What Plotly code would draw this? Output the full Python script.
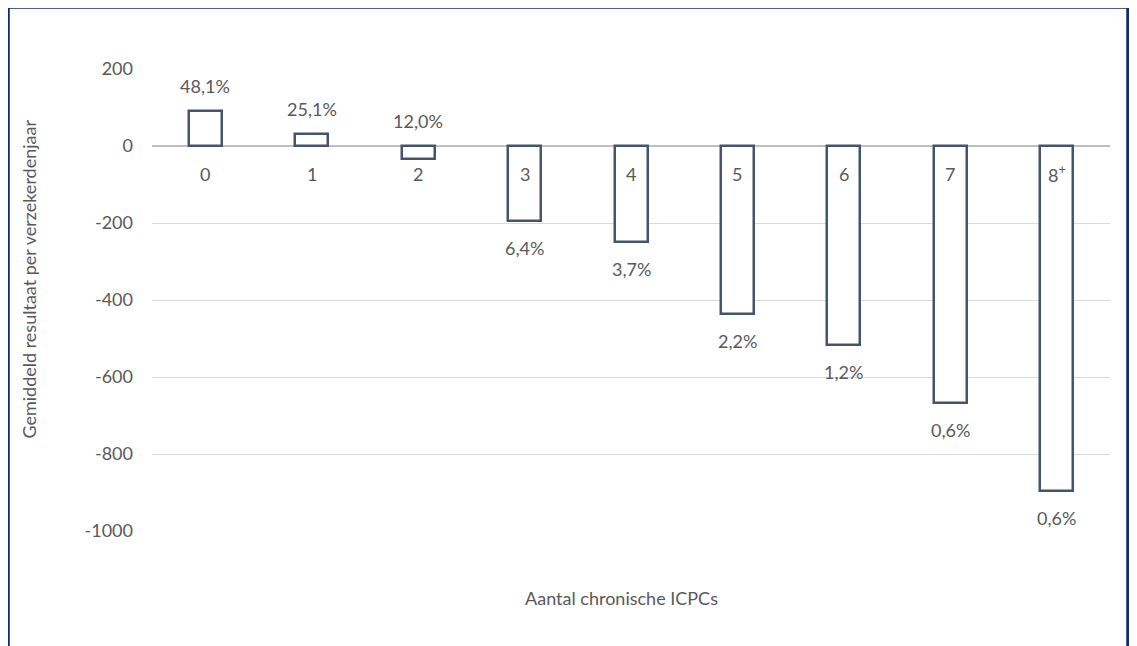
import plotly.graph_objects as go

# data
categories = ["0", "1", "2", "3", "4", "5", "6", "7", "8<sup>+</sup>"]
resultaat = [91, 31, -34, -195, -250, -436, -517, -668, -897]
aandeel = ["48,1%", "25,1%", "12,0%", "6,4%", "3,7%", "2,2%", "1,2%", "0,6%", "0,6%"]
label_side = ["above", "above", "above", "below", "below", "below", "below", "below", "below"]

FONT = "Lato, 'Open Sans', sans-serif"
GREY = "#595959"
BAR_LINE = "#44546A"
FS = 18

x_pos = list(range(len(categories)))

fig = go.Figure()
fig.add_trace(go.Bar(
    x=x_pos,
    y=resultaat,
    width=0.31,
    marker=dict(color="white", line=dict(color=BAR_LINE, width=2.5)),
    hoverinfo="skip",
    showlegend=False,
))

# percentage labels: outside the bar end (small negative bar gets it above zero)
for i, (v, txt, side) in enumerate(zip(resultaat, aandeel, label_side)):
    if side == "above":
        fig.add_annotation(x=i, y=max(v, 0), text=txt, showarrow=False,
                           yshift=25, yanchor="middle",
                           font=dict(family=FONT, size=FS, color=GREY))
    else:
        fig.add_annotation(x=i, y=v, text=txt, showarrow=False,
                           yshift=-27, yanchor="middle",
                           font=dict(family=FONT, size=FS, color=GREY))

# category labels sit just under the zero line
for i, cat in enumerate(categories):
    fig.add_annotation(x=i, y=0, text=cat, showarrow=False,
                       yshift=-28, yanchor="middle",
                       font=dict(family=FONT, size=FS, color=GREY))

# axis titles
fig.add_annotation(x=0.49, xref="paper", y=-0.145, yref="paper",
                   text="Aantal chronische ICPCs", showarrow=False,
                   yanchor="middle", font=dict(family=FONT, size=FS, color=GREY))
fig.add_annotation(x=-0.128, xref="paper", y=0.545, yref="paper",
                   text="Gemiddeld resultaat per verzekerdenjaar", showarrow=False,
                   textangle=-90, xanchor="center", yanchor="middle",
                   font=dict(family=FONT, size=FS, color=GREY))

# dark blue frame around the chart
fig.add_shape(type="rect", xref="paper", yref="paper",
              x0=-0.1503, x1=1.0188, y0=-0.35, y1=1.1342,
              line=dict(color="#112A6A", width=3.5), fillcolor="rgba(0,0,0,0)",
              layer="above")

# page body has an 8px margin, so margins are offset to keep the plot in place
fig.update_layout(
    width=1137, height=646,
    paper_bgcolor="white", plot_bgcolor="white",
    margin=dict(l=144, r=35, t=61, b=123),
    bargap=0,
    font=dict(family=FONT, size=FS, color=GREY),
)

fig.update_xaxes(
    range=[-0.5, len(categories) - 0.5],
    showgrid=False, zeroline=False, showticklabels=False,
    showline=False, ticks="",
)

fig.update_yaxes(
    range=[-1000, 200],
    tickvals=[200, 0, -200, -400, -600, -800, -1000],
    ticktext=["200", "0", "-200", "-400", "-600", "-800", "-1000"],
    showgrid=True, gridcolor="#D9D9D9", gridwidth=1,
    zeroline=True, zerolinecolor="#BFBFBF", zerolinewidth=1.5,
    showline=False, ticks="",
    ticklabelstandoff=18,
    tickfont=dict(family=FONT, size=FS, color=GREY),
)

fig.write_html("out.html")
